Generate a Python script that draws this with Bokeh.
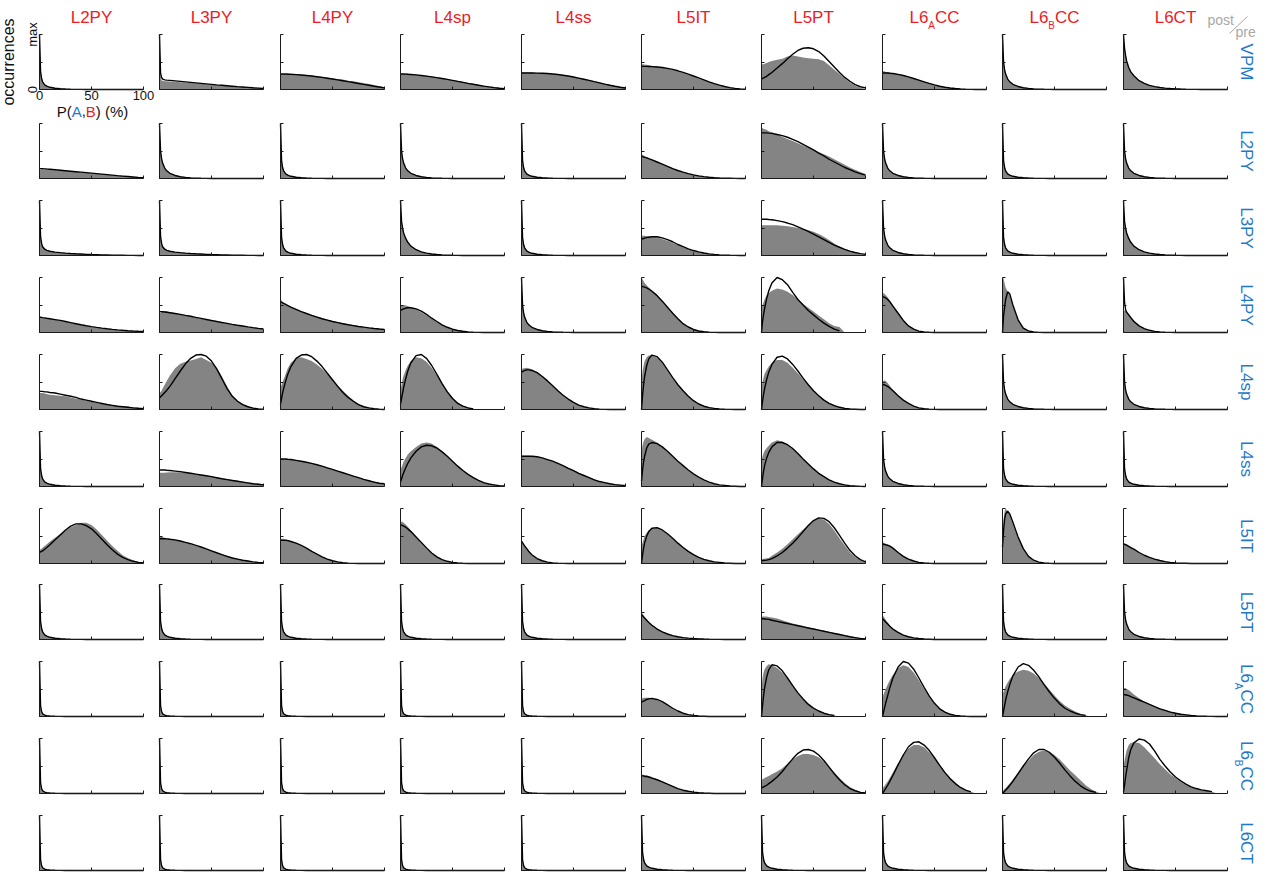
import math
from bokeh.plotting import figure
from bokeh.layouts import gridplot
from bokeh.models import Range1d, FixedTicker, Label, Arrow
from bokeh.embed import file_html
from bokeh.resources import INLINE

# ---------------------------------------------------------------- data
PRE = ["VPM", "L2PY", "L3PY", "L4PY", "L4sp", "L4ss", "L5IT", "L5PT", "L6ACC", "L6BCC", "L6CT"]
POST = ["L2PY", "L3PY", "L4PY", "L4sp", "L4ss", "L5IT", "L5PT", "L6ACC", "L6BCC", "L6CT"]
SUB = {"L6ACC": ("L6", "A", "CC"), "L6BCC": ("L6", "B", "CC")}

# P(A,B) in percent at which the histograms / fits were read
X = [0, 1, 2, 3, 5, 7, 10, 15, 20, 25, 30, 35, 40, 45, 50, 55, 60, 65, 70, 75, 80, 85, 90, 95, 100]
X_TICKS = [0, 50, 100]
Y_TICKS = [0, 0.5, 1]
N = None  # fit not drawn there

# spike-shaped cells (occurrences normalised to max)
SP_VN = [1.0,0.2,0.09,0.05,0.025,0.015,0.008, 0.004,0.002,0.001,0,0,0, 0,0,0,0,0,0, 0,0,0,0,0,0]
SP_N = [1.0,0.33,0.2,0.14,0.085,0.06,0.04, 0.022,0.013,0.008,0.005,0.003,0.002, 0.001,0,0,0,0,0, 0,0,0,0,0,0]
SP_M = [1.0,0.5,0.36,0.28,0.19,0.14,0.095, 0.055,0.032,0.02,0.012,0.007,0.004, 0.002,0.001,0,0,0,0, 0,0,0,0,0,0]
SP_W = [1.0,0.62,0.5,0.41,0.31,0.24,0.17, 0.105,0.066,0.043,0.028,0.018,0.011, 0.007,0.004,0.002,0.001,0,0, 0,0,0,0,0,0]
SP_T = [1.0,0.35,0.22,0.16,0.115,0.093,0.077, 0.062,0.052,0.044,0.037,0.031,0.026, 0.021,0.017,0.014,0.011,0.009,0.007, 0.005,0.004,0.003,0.002,0.001,0.001]

# VPM row
F_VPM_L3PY = [1.0,0.3,0.22,0.19,0.175,0.17,0.165, 0.156,0.147,0.138,0.129,0.12,0.111, 0.102,0.093,0.084,0.076,0.068,0.06, 0.052,0.045,0.038,0.031,0.025,0.019]
H_VPM_L3PY = [1.0,0.25,0.17,0.155,0.15,0.148,0.145, 0.14,0.134,0.127,0.12,0.112,0.104, 0.096,0.088,0.08,0.072,0.065,0.058, 0.051,0.044,0.037,0.031,0.025,0.019]
F_VPM_L4PY = [0.28,0.28,0.28,0.28,0.28,0.278,0.275, 0.27,0.263,0.255,0.245,0.233,0.22, 0.205,0.19,0.175,0.16,0.143,0.127, 0.11,0.093,0.077,0.06,0.045,0.03]
H_VPM_L4PY = [0.3,0.3,0.3,0.3,0.3,0.29,0.29, 0.28,0.27,0.26,0.25,0.24,0.23, 0.22,0.2,0.19,0.18,0.16,0.15, 0.13,0.12,0.1,0.08,0.06,0.04]
F_VPM_L4sp = [0.28,0.28,0.28,0.28,0.28,0.277,0.273, 0.265,0.255,0.243,0.23,0.215,0.2, 0.183,0.165,0.147,0.13,0.112,0.095, 0.078,0.062,0.048,0.035,0.024,0.015]
H_VPM_L4sp = [0.3,0.3,0.3,0.3,0.29,0.29,0.28, 0.27,0.26,0.25,0.24,0.22,0.21, 0.19,0.17,0.16,0.14,0.12,0.1, 0.09,0.07,0.06,0.045,0.03,0.02]
F_VPM_L4ss = [0.3,0.3,0.3,0.3,0.3,0.3,0.3, 0.298,0.295,0.29,0.283,0.273,0.26, 0.245,0.228,0.208,0.187,0.165,0.142, 0.12,0.098,0.077,0.058,0.042,0.028]
H_VPM_L4ss = [0.31,0.31,0.31,0.31,0.31,0.31,0.31, 0.3,0.3,0.29,0.28,0.27,0.26, 0.245,0.23,0.21,0.19,0.17,0.15, 0.13,0.105,0.085,0.065,0.045,0.03]
F_VPM_L5IT = [0.42,0.42,0.42,0.42,0.42,0.418,0.415, 0.41,0.4,0.385,0.365,0.34,0.31, 0.28,0.245,0.21,0.175,0.14,0.108, 0.08,0.055,0.035,0.02,0.01,0.005]
H_VPM_L5IT = [0.46,0.46,0.46,0.45,0.45,0.44,0.43, 0.42,0.4,0.38,0.36,0.33,0.3, 0.27,0.24,0.2,0.17,0.135,0.105, 0.08,0.055,0.035,0.02,0.01,0.005]
F_VPM_L5PT = [0.19,0.2,0.21,0.22,0.24,0.27,0.31, 0.39,0.47,0.56,0.64,0.71,0.75, 0.76,0.74,0.69,0.61,0.51,0.41, 0.31,0.22,0.15,0.09,0.05,0.03]
H_VPM_L5PT = [0.46,0.46,0.46,0.47,0.48,0.5,0.52, 0.54,0.56,0.6,0.62,0.6,0.58, 0.57,0.56,0.55,0.52,0.44,0.36, 0.28,0.2,0.13,0.07,0.03,0.01]
F_VPM_L6ACC = [0.3,0.3,0.3,0.3,0.3,0.295,0.29, 0.275,0.255,0.23,0.2,0.17,0.14, 0.11,0.083,0.06,0.042,0.028,0.018, 0.011,0.006,0.003,0.001,0,0]
H_VPM_L6ACC = [0.33,0.33,0.33,0.32,0.32,0.31,0.3, 0.28,0.26,0.23,0.2,0.17,0.14, 0.11,0.085,0.06,0.042,0.028,0.018, 0.01,0.005,0.002,0,0,0]
F_VPM_L6CT = [1.0,0.75,0.62,0.52,0.4,0.32,0.25, 0.16,0.11,0.075,0.052,0.036,0.025, 0.017,0.012,0.008,0.005,0.003,0.002, 0.001,0,0,0,0,0]

# L2PY row
F_L2PY_L2PY = [0.18,0.18,0.178,0.177,0.175,0.172,0.168, 0.16,0.151,0.142,0.133,0.124,0.115, 0.106,0.097,0.088,0.079,0.07,0.061, 0.052,0.044,0.036,0.028,0.02,0.013]
H_L2PY_L2PY = [0.16,0.16,0.16,0.16,0.16,0.158,0.155, 0.15,0.145,0.138,0.13,0.122,0.113, 0.104,0.095,0.086,0.077,0.068,0.06, 0.052,0.044,0.036,0.028,0.02,0.013]
F_L2PY_L5IT = [0.4,0.4,0.39,0.385,0.375,0.36,0.34, 0.3,0.26,0.22,0.18,0.145,0.115, 0.088,0.066,0.048,0.034,0.024,0.016, 0.01,0.006,0.004,0.002,0.001,0]
H_L2PY_L5IT = [0.43,0.43,0.42,0.41,0.39,0.37,0.35, 0.31,0.26,0.22,0.18,0.145,0.115, 0.088,0.066,0.048,0.034,0.024,0.016, 0.01,0.006,0.004,0.002,0.001,0]
F_L2PY_L5PT = [0.83,0.83,0.83,0.83,0.83,0.825,0.82, 0.8,0.78,0.75,0.71,0.67,0.62, 0.57,0.52,0.46,0.41,0.35,0.3, 0.25,0.2,0.16,0.12,0.09,0.06]
H_L2PY_L5PT = [0.92,0.92,0.9,0.9,0.88,0.86,0.84, 0.8,0.76,0.72,0.68,0.64,0.6, 0.56,0.52,0.48,0.44,0.4,0.35, 0.3,0.25,0.2,0.16,0.12,0.08]

# L3PY row
F_L3PY_L5IT = [0.3,0.305,0.31,0.315,0.325,0.333,0.34, 0.34,0.32,0.29,0.25,0.2,0.16, 0.12,0.09,0.065,0.045,0.03,0.02, 0.012,0.007,0.004,0.002,0.001,0]
H_L3PY_L5IT = [0.36,0.36,0.36,0.36,0.355,0.35,0.34, 0.33,0.3,0.27,0.23,0.19,0.15, 0.115,0.085,0.06,0.04,0.028,0.018, 0.01,0.006,0.003,0.001,0,0]
F_L3PY_L5PT = [0.66,0.66,0.66,0.66,0.66,0.655,0.65, 0.635,0.615,0.59,0.56,0.52,0.48, 0.44,0.39,0.34,0.29,0.24,0.19, 0.15,0.11,0.08,0.055,0.035,0.02]
H_L3PY_L5PT = [0.55,0.55,0.55,0.55,0.55,0.55,0.55, 0.55,0.54,0.53,0.52,0.5,0.48, 0.46,0.43,0.39,0.34,0.28,0.22, 0.16,0.12,0.08,0.05,0.025,0.01]

# L4PY row
F_L4PY_L2PY = [0.28,0.277,0.274,0.27,0.265,0.258,0.25, 0.235,0.22,0.2,0.18,0.16,0.14, 0.123,0.107,0.093,0.08,0.068,0.057, 0.048,0.04,0.033,0.027,0.022,0.018]
H_L4PY_L2PY = [0.28,0.28,0.275,0.27,0.265,0.26,0.25, 0.235,0.215,0.195,0.175,0.155,0.135, 0.118,0.102,0.088,0.076,0.065,0.055, 0.046,0.038,0.031,0.025,0.02,0.016]
F_L4PY_L3PY = [0.38,0.38,0.378,0.376,0.372,0.368,0.36, 0.345,0.33,0.312,0.295,0.275,0.256, 0.237,0.218,0.2,0.182,0.165,0.148, 0.132,0.117,0.102,0.088,0.075,0.063]
H_L4PY_L3PY = [0.35,0.36,0.37,0.38,0.39,0.385,0.37, 0.35,0.33,0.31,0.29,0.27,0.25, 0.23,0.21,0.19,0.175,0.16,0.145, 0.13,0.115,0.1,0.088,0.076,0.065]
F_L4PY_L4PY = [0.56,0.55,0.54,0.53,0.51,0.49,0.46, 0.42,0.38,0.345,0.31,0.28,0.25, 0.225,0.2,0.18,0.16,0.14,0.125, 0.11,0.097,0.085,0.074,0.064,0.055]
H_L4PY_L4PY = [0.6,0.58,0.56,0.54,0.52,0.5,0.47, 0.42,0.38,0.35,0.32,0.29,0.26, 0.235,0.21,0.19,0.17,0.15,0.135, 0.12,0.105,0.092,0.08,0.07,0.06]
F_L4PY_L4sp = [0.4,0.41,0.42,0.43,0.44,0.45,0.45, 0.43,0.39,0.33,0.26,0.2,0.14, 0.095,0.06,0.037,0.022,0.012,0.006, 0.003,0.001,0,0,0,0]
H_L4PY_L4sp = [0.5,0.5,0.5,0.5,0.49,0.48,0.46, 0.42,0.37,0.31,0.25,0.19,0.14, 0.095,0.06,0.037,0.022,0.012,0.006, 0.003,0,0,0,0,0]
F_L4PY_L5IT = [0.84,0.835,0.83,0.825,0.81,0.79,0.75, 0.67,0.57,0.46,0.35,0.25,0.16, 0.1,0.055,0.028,0.013,0.006,0.002, 0.001,0,0,0,0,0]
H_L4PY_L5IT = [1.0,0.97,0.93,0.9,0.86,0.82,0.77, 0.68,0.57,0.46,0.35,0.25,0.17, 0.105,0.06,0.03,0.015,0.007,0.003, 0.001,0,0,0,0,0]
F_L4PY_L5PT = [0,0.2,0.33,0.44,0.62,0.76,0.9, 1.0,0.96,0.87,0.73,0.6,0.5, 0.4,0.32,0.24,0.17,0.11,0.06, 0.03,N,N,N,N,N]
H_L4PY_L5PT = [0.45,0.5,0.55,0.6,0.68,0.72,0.76, 0.8,0.78,0.74,0.68,0.6,0.52, 0.45,0.38,0.31,0.24,0.17,0.12, 0.1,0,0,0,0,0]
F_L4PY_L6ACC = [0.65,0.65,0.64,0.63,0.6,0.56,0.48, 0.35,0.22,0.12,0.06,0.025,0.01, 0.004,0,0,0,0,0, 0,0,0,0,0,0]
H_L4PY_L6ACC = [0.72,0.72,0.7,0.68,0.64,0.58,0.5, 0.36,0.22,0.12,0.06,0.025,0.01, 0,0,0,0,0,0, 0,0,0,0,0,0]
F_L4PY_L6BCC = [0,0.3,0.45,0.6,0.74,0.7,0.5, 0.23,0.08,0.03,0.01,0.003,0, 0,0,0,0,0,0, 0,0,0,0,0,0]
H_L4PY_L6BCC = [1.0,0.98,0.9,0.82,0.74,0.66,0.48, 0.22,0.08,0.03,0.01,0,0, 0,0,0,0,0,0, 0,0,0,0,0,0]
F_L4PY_L6CT = [1.0,0.55,0.42,0.37,0.32,0.27,0.2, 0.12,0.07,0.04,0.02,0.01,0.005, 0.002,0.001,0,0,0,0, 0,0,0,0,0,0]
H_L4PY_L6CT = [0.4,0.4,0.4,0.38,0.34,0.29,0.22, 0.13,0.07,0.04,0.02,0.01,0.005, 0,0,0,0,0,0, 0,0,0,0,0,0]

# L4sp row
F_L4sp_L2PY = [0.33,0.33,0.33,0.33,0.32,0.32,0.31, 0.3,0.28,0.26,0.24,0.22,0.19, 0.17,0.15,0.13,0.11,0.09,0.075, 0.06,0.05,0.04,0.03,0.022,0.016]
H_L4sp_L2PY = [0.3,0.3,0.3,0.3,0.29,0.28,0.27, 0.26,0.25,0.24,0.22,0.2,0.18, 0.16,0.14,0.12,0.1,0.09,0.08, 0.07,0.06,0.05,0.04,0.03,0.02]
F_L4sp_L3PY = [0.21,0.23,0.25,0.27,0.31,0.35,0.42, 0.56,0.7,0.83,0.93,0.99,1.0, 0.97,0.88,0.74,0.56,0.38,0.24, 0.15,0.09,0.05,0.025,0.012,0.005]
H_L4sp_L3PY = [0.3,0.32,0.34,0.38,0.45,0.52,0.62, 0.75,0.83,0.87,0.89,0.92,0.95, 0.9,0.85,0.76,0.6,0.42,0.26, 0.16,0.1,0.06,0.03,0.015,0.005]
F_L4sp_L4PY = [0.1,0.2,0.3,0.38,0.52,0.64,0.78, 0.93,0.99,1.0,0.96,0.88,0.78, 0.66,0.54,0.42,0.31,0.22,0.15, 0.09,0.05,0.03,0.015,0.005,0]
H_L4sp_L4PY = [0.4,0.45,0.5,0.55,0.65,0.75,0.85, 0.93,0.95,0.92,0.88,0.82,0.74, 0.64,0.54,0.44,0.34,0.25,0.17, 0.1,0.06,0.03,0.015,0.005,0]
F_L4sp_L4sp = [0.1,0.2,0.3,0.4,0.56,0.7,0.85, 0.98,1.0,0.93,0.8,0.64,0.47, 0.32,0.2,0.11,0.06,0.03,0.01, N,N,N,N,N,N]
H_L4sp_L4sp = [0.35,0.45,0.55,0.62,0.72,0.8,0.88, 0.95,0.93,0.87,0.76,0.62,0.47, 0.33,0.22,0.13,0.07,0.03,0.01, 0,0,0,0,0,0]
F_L4sp_L4ss = [0.68,0.69,0.7,0.71,0.72,0.72,0.71, 0.67,0.6,0.52,0.43,0.34,0.26, 0.19,0.13,0.08,0.05,0.03,0.015, 0.007,0.003,0,0,0,0]
H_L4sp_L4ss = [0.72,0.74,0.75,0.75,0.76,0.75,0.73, 0.68,0.6,0.52,0.43,0.34,0.26, 0.19,0.13,0.08,0.05,0.03,0.015, 0,0,0,0,0,0]
F_L4sp_L5IT = [0.0,0.25,0.45,0.6,0.8,0.92,0.99, 0.96,0.86,0.72,0.58,0.45,0.34, 0.24,0.16,0.1,0.06,0.035,0.02, 0.01,0.005,0.002,0,0,0]
H_L4sp_L5IT = [0.5,0.7,0.8,0.88,0.95,0.98,0.98, 0.94,0.84,0.7,0.56,0.44,0.34, 0.25,0.17,0.11,0.07,0.04,0.02, 0.01,0,0,0,0,0]
F_L4sp_L5PT = [0.0,0.15,0.28,0.38,0.55,0.68,0.82, 0.95,0.97,0.92,0.82,0.7,0.57, 0.45,0.34,0.25,0.17,0.11,0.07, 0.04,0.02,0.01,0.005,0,0]
H_L4sp_L5PT = [0.4,0.5,0.58,0.65,0.72,0.78,0.85, 0.9,0.9,0.85,0.76,0.66,0.55, 0.45,0.35,0.26,0.18,0.12,0.08, 0.05,0.03,0.015,0.005,0,0]
F_L4sp_L6ACC = [0.45,0.45,0.45,0.44,0.42,0.39,0.34, 0.25,0.17,0.11,0.06,0.03,0.015, 0.007,0.003,0,0,0,0, 0,0,0,0,0,0]
H_L4sp_L6ACC = [0.5,0.52,0.53,0.52,0.48,0.43,0.36, 0.26,0.17,0.1,0.06,0.03,0.015, 0.005,0,0,0,0,0, 0,0,0,0,0,0]

# L4ss row
F_L4ss_L3PY = [0.3,0.3,0.3,0.3,0.3,0.295,0.29, 0.28,0.27,0.255,0.24,0.225,0.21, 0.195,0.18,0.16,0.14,0.125,0.11, 0.095,0.08,0.065,0.05,0.04,0.03]
H_L4ss_L3PY = [0.25,0.25,0.25,0.25,0.25,0.255,0.26, 0.26,0.26,0.25,0.24,0.225,0.21, 0.195,0.18,0.165,0.15,0.135,0.12, 0.105,0.09,0.075,0.06,0.05,0.04]
F_L4ss_L4PY = [0.5,0.5,0.5,0.5,0.5,0.495,0.49, 0.475,0.46,0.44,0.42,0.395,0.37, 0.34,0.31,0.28,0.25,0.22,0.19, 0.16,0.13,0.105,0.08,0.06,0.05]
H_L4ss_L4PY = [0.5,0.5,0.5,0.5,0.5,0.5,0.49, 0.48,0.46,0.44,0.42,0.4,0.37, 0.34,0.31,0.28,0.25,0.22,0.19, 0.16,0.13,0.11,0.09,0.07,0.05]
F_L4ss_L4sp = [0.08,0.14,0.2,0.25,0.34,0.42,0.52, 0.64,0.72,0.75,0.74,0.7,0.63, 0.55,0.46,0.37,0.29,0.22,0.16, 0.11,0.07,0.045,0.03,0.015,0.008]
H_L4ss_L4sp = [0.3,0.35,0.4,0.45,0.52,0.58,0.64, 0.72,0.78,0.8,0.78,0.72,0.64, 0.55,0.46,0.37,0.29,0.22,0.16, 0.11,0.07,0.045,0.03,0.015,0.005]
F_L4ss_L4ss = [0.55,0.55,0.55,0.55,0.55,0.55,0.55, 0.54,0.52,0.49,0.46,0.42,0.38, 0.33,0.29,0.24,0.2,0.16,0.12, 0.09,0.07,0.05,0.035,0.025,0.015]
H_L4ss_L4ss = [0.56,0.56,0.56,0.56,0.56,0.56,0.55, 0.54,0.52,0.49,0.46,0.42,0.38, 0.34,0.3,0.25,0.21,0.17,0.13, 0.1,0.075,0.055,0.04,0.028,0.018]
F_L4ss_L5IT = [0.1,0.3,0.45,0.55,0.7,0.77,0.8, 0.78,0.72,0.64,0.55,0.46,0.38, 0.3,0.23,0.17,0.12,0.08,0.05, 0.03,0.02,0.01,0.005,0,0]
H_L4ss_L5IT = [0.6,0.75,0.82,0.86,0.9,0.88,0.85, 0.8,0.72,0.63,0.54,0.45,0.37, 0.29,0.22,0.16,0.11,0.07,0.045, 0.025,0.015,0.005,0,0,0]
F_L4ss_L5PT = [0.0,0.15,0.28,0.38,0.52,0.62,0.72, 0.8,0.8,0.76,0.69,0.6,0.5, 0.41,0.32,0.24,0.18,0.12,0.08, 0.05,0.03,0.015,0.008,0.003,0]
H_L4ss_L5PT = [0.45,0.55,0.6,0.65,0.7,0.74,0.8, 0.84,0.82,0.76,0.68,0.59,0.5, 0.41,0.32,0.25,0.18,0.12,0.08, 0.05,0.03,0.015,0.005,0,0]

# L5IT row
F_L5IT_L2PY = [0.2,0.21,0.22,0.23,0.26,0.29,0.34, 0.43,0.52,0.61,0.68,0.72,0.72, 0.69,0.63,0.54,0.44,0.34,0.25, 0.17,0.11,0.07,0.04,0.02,0.01]
H_L5IT_L2PY = [0.25,0.26,0.27,0.29,0.32,0.35,0.4, 0.47,0.54,0.6,0.66,0.7,0.74, 0.74,0.7,0.62,0.52,0.42,0.32, 0.23,0.15,0.1,0.06,0.03,0.015]
F_L5IT_L3PY = [0.45,0.45,0.45,0.45,0.45,0.447,0.44, 0.43,0.41,0.385,0.36,0.33,0.3, 0.265,0.23,0.195,0.16,0.13,0.1, 0.08,0.06,0.045,0.03,0.02,0.015]
H_L5IT_L3PY = [0.5,0.5,0.49,0.48,0.47,0.46,0.45, 0.43,0.41,0.38,0.35,0.32,0.29, 0.26,0.23,0.2,0.17,0.14,0.11, 0.085,0.065,0.048,0.033,0.022,0.015]
F_L5IT_L4PY = [0.42,0.42,0.42,0.42,0.42,0.415,0.4, 0.37,0.33,0.28,0.22,0.17,0.12, 0.08,0.05,0.03,0.015,0.007,0.003, 0.001,0,0,0,0,0]
H_L5IT_L4PY = [0.45,0.45,0.45,0.45,0.44,0.43,0.41, 0.37,0.32,0.27,0.21,0.16,0.115, 0.08,0.05,0.03,0.015,0.007,0.003, 0,0,0,0,0,0]
F_L5IT_L4sp = [0.7,0.7,0.69,0.68,0.66,0.63,0.58, 0.48,0.38,0.28,0.19,0.12,0.07, 0.04,0.02,0.01,0.004,0,0, 0,0,0,0,0,0]
H_L5IT_L4sp = [0.75,0.76,0.76,0.74,0.71,0.67,0.6, 0.48,0.36,0.26,0.18,0.12,0.07, 0.04,0.02,0.01,0,0,0, 0,0,0,0,0,0]
F_L5IT_L4ss = [0.4,0.38,0.35,0.32,0.27,0.22,0.16, 0.09,0.05,0.025,0.012,0.006,0.003, 0,0,0,0,0,0, 0,0,0,0,0,0]
H_L5IT_L4ss = [0.38,0.37,0.35,0.33,0.28,0.23,0.16, 0.09,0.05,0.025,0.012,0.005,0, 0,0,0,0,0,0, 0,0,0,0,0,0]
F_L5IT_L5IT = [0.0,0.15,0.28,0.37,0.5,0.58,0.64, 0.65,0.61,0.54,0.46,0.37,0.29, 0.22,0.16,0.11,0.075,0.05,0.03, 0.02,0.01,0.005,0,0,0]
H_L5IT_L5IT = [0.3,0.38,0.44,0.5,0.56,0.6,0.63, 0.63,0.6,0.53,0.45,0.37,0.29, 0.22,0.16,0.11,0.075,0.05,0.03, 0.015,0.005,0,0,0,0]
F_L5IT_L5PT = [0.05,0.052,0.054,0.056,0.062,0.07,0.09, 0.14,0.2,0.28,0.37,0.47,0.58, 0.69,0.78,0.83,0.82,0.76,0.65, 0.51,0.37,0.24,0.14,0.07,0.03]
H_L5IT_L5PT = [0.08,0.082,0.085,0.088,0.095,0.1,0.14, 0.2,0.27,0.35,0.44,0.53,0.62, 0.7,0.78,0.82,0.8,0.72,0.6, 0.46,0.33,0.21,0.12,0.06,0.02]
F_L5IT_L6ACC = [0.35,0.35,0.345,0.34,0.33,0.315,0.28, 0.2,0.13,0.08,0.045,0.02,0.01, 0.004,0,0,0,0,0, 0,0,0,0,0,0]
H_L5IT_L6ACC = [0.38,0.38,0.37,0.36,0.35,0.33,0.29, 0.2,0.13,0.08,0.045,0.02,0.01, 0,0,0,0,0,0, 0,0,0,0,0,0]
F_L5IT_L6BCC = [0.3,0.6,0.8,0.9,0.95,0.9,0.75, 0.48,0.27,0.13,0.06,0.025,0.01, 0.004,0,0,0,0,0, 0,0,0,0,0,0]
H_L5IT_L6BCC = [0.5,0.8,0.95,1.0,0.95,0.88,0.72, 0.46,0.26,0.13,0.06,0.025,0.01, 0,0,0,0,0,0, 0,0,0,0,0,0]
F_L5IT_L6CT = [0.35,0.35,0.34,0.335,0.31,0.29,0.26, 0.2,0.15,0.11,0.08,0.055,0.035, 0.02,0.012,0.007,0.004,0,0, 0,0,0,0,0,0]
H_L5IT_L6CT = [0.38,0.37,0.36,0.35,0.32,0.3,0.26, 0.2,0.15,0.11,0.08,0.055,0.035, 0.02,0.012,0.007,0.004,0,0, 0,0,0,0,0,0]

# L5PT row
F_L5PT_L5IT = [0.45,0.43,0.41,0.39,0.35,0.31,0.26, 0.19,0.14,0.1,0.07,0.05,0.035, 0.025,0.017,0.012,0.008,0.005,0.003, 0.002,0,0,0,0,0]
H_L5PT_L5IT = [0.5,0.47,0.44,0.41,0.36,0.32,0.27, 0.2,0.14,0.1,0.07,0.05,0.035, 0.025,0.017,0.012,0.008,0.005,0.003, 0,0,0,0,0,0]
F_L5PT_L5PT = [0.38,0.378,0.376,0.374,0.37,0.365,0.35, 0.33,0.31,0.29,0.27,0.25,0.23, 0.21,0.19,0.17,0.15,0.13,0.11, 0.09,0.07,0.05,0.035,0.02,0.01]
H_L5PT_L5PT = [0.42,0.42,0.42,0.42,0.42,0.41,0.4, 0.38,0.35,0.32,0.29,0.27,0.25, 0.22,0.2,0.18,0.16,0.14,0.12, 0.1,0.08,0.06,0.04,0.02,0.01]
F_L5PT_L6ACC = [0.38,0.36,0.34,0.32,0.28,0.24,0.19, 0.13,0.08,0.05,0.03,0.018,0.01, 0.005,0,0,0,0,0, 0,0,0,0,0,0]
H_L5PT_L6ACC = [0.45,0.42,0.39,0.36,0.31,0.26,0.2, 0.13,0.08,0.05,0.03,0.018,0.01, 0,0,0,0,0,0, 0,0,0,0,0,0]

# L6ACC row
F_L6ACC_L5IT = [0.26,0.27,0.28,0.29,0.31,0.32,0.33, 0.31,0.27,0.21,0.15,0.1,0.06, 0.035,0.02,0.01,0.005,0,0, 0,0,0,0,0,0]
H_L6ACC_L5IT = [0.32,0.33,0.34,0.34,0.34,0.34,0.33, 0.3,0.26,0.2,0.14,0.09,0.055, 0.03,0.015,0.008,0,0,0, 0,0,0,0,0,0]
F_L6ACC_L5PT = [0,0.2,0.38,0.52,0.72,0.85,0.94, 0.92,0.83,0.7,0.56,0.43,0.32, 0.22,0.15,0.1,0.06,0.035,0.02, N,N,N,N,N,N]
H_L6ACC_L5PT = [0.5,0.7,0.8,0.86,0.92,0.95,0.93, 0.88,0.8,0.68,0.55,0.43,0.33, 0.24,0.17,0.11,0.07,0.04,0.02, 0,0,0,0,0,0]
F_L6ACC_L6ACC = [0,0.08,0.16,0.24,0.38,0.52,0.7, 0.9,1.0,0.97,0.86,0.7,0.53, 0.37,0.24,0.14,0.08,0.04,0.02, 0.01,0.004,0,0,0,0]
H_L6ACC_L6ACC = [0.35,0.4,0.45,0.5,0.58,0.66,0.76, 0.88,0.93,0.9,0.8,0.66,0.5, 0.36,0.24,0.15,0.09,0.05,0.025, 0.01,0,0,0,0,0]
F_L6ACC_L6BCC = [0,0.1,0.2,0.3,0.45,0.58,0.74, 0.9,0.96,0.93,0.84,0.72,0.58, 0.45,0.33,0.23,0.15,0.1,0.06, 0.035,0.02,N,N,N,N]
H_L6ACC_L6BCC = [0.4,0.45,0.5,0.55,0.62,0.68,0.76, 0.82,0.85,0.83,0.78,0.7,0.6, 0.49,0.38,0.28,0.2,0.14,0.09, 0.05,0.02,0,0,0,0]
F_L6ACC_L6CT = [0.4,0.4,0.39,0.39,0.38,0.36,0.34, 0.3,0.26,0.22,0.18,0.14,0.11, 0.08,0.06,0.04,0.03,0.02,0.012, 0.007,0.004,0.002,0,0,0]
H_L6ACC_L6CT = [0.5,0.52,0.52,0.5,0.48,0.45,0.4, 0.33,0.27,0.22,0.18,0.15,0.12, 0.09,0.07,0.05,0.035,0.025,0.015, 0.008,0.004,0,0,0,0]

# L6BCC row
F_L6BCC_L5IT = [0.32,0.32,0.32,0.31,0.31,0.3,0.28, 0.25,0.21,0.17,0.13,0.09,0.06, 0.04,0.025,0.015,0.008,0.004,0, 0,0,0,0,0,0]
H_L6BCC_L5IT = [0.34,0.34,0.34,0.33,0.33,0.32,0.3, 0.26,0.22,0.17,0.13,0.09,0.06, 0.04,0.025,0.015,0.008,0,0, 0,0,0,0,0,0]
F_L6BCC_L5PT = [0.1,0.11,0.12,0.13,0.15,0.18,0.22, 0.3,0.4,0.52,0.63,0.73,0.79, 0.8,0.77,0.7,0.6,0.48,0.36, 0.25,0.16,0.09,0.05,0.02,0.01]
H_L6BCC_L5PT = [0.25,0.26,0.27,0.28,0.3,0.32,0.35, 0.4,0.46,0.54,0.62,0.68,0.72, 0.72,0.7,0.66,0.58,0.48,0.38, 0.28,0.19,0.12,0.07,0.03,0.01]
F_L6BCC_L6ACC = [0,0.03,0.06,0.09,0.15,0.22,0.33, 0.52,0.7,0.85,0.93,0.94,0.88, 0.78,0.65,0.51,0.38,0.27,0.18, 0.11,0.06,0.03,N,N,N]
H_L6BCC_L6ACC = [0.1,0.12,0.14,0.17,0.22,0.28,0.38, 0.55,0.7,0.82,0.88,0.88,0.84, 0.75,0.64,0.52,0.4,0.29,0.2, 0.12,0.07,0.03,0,0,0]
F_L6BCC_L6BCC = [0,0.02,0.04,0.06,0.1,0.15,0.22, 0.36,0.5,0.63,0.74,0.8,0.8, 0.75,0.66,0.55,0.43,0.32,0.22, 0.14,0.08,0.04,0.02,N,N]
H_L6BCC_L6BCC = [0.05,0.06,0.08,0.1,0.14,0.18,0.26, 0.38,0.5,0.6,0.7,0.76,0.78, 0.76,0.7,0.62,0.52,0.42,0.33, 0.24,0.15,0.08,0.03,0,0]
F_L6BCC_L6CT = [0.03,0.15,0.3,0.42,0.65,0.8,0.92, 0.99,0.97,0.9,0.77,0.62,0.5, 0.39,0.3,0.23,0.17,0.12,0.09, 0.065,0.05,0.035,N,N,N]
H_L6BCC_L6CT = [0.5,0.6,0.7,0.78,0.88,0.92,0.93, 0.92,0.84,0.74,0.64,0.53,0.44, 0.35,0.28,0.21,0.16,0.12,0.09, 0.065,0.045,0.03,0,0,0]

# per presynaptic row: fitted curves and histograms, one entry per postsynaptic column
FIT_VPM = [SP_N, F_VPM_L3PY, F_VPM_L4PY, F_VPM_L4sp, F_VPM_L4ss, F_VPM_L5IT, F_VPM_L5PT, F_VPM_L6ACC, SP_M, F_VPM_L6CT]
HIST_VPM = [SP_N, H_VPM_L3PY, H_VPM_L4PY, H_VPM_L4sp, H_VPM_L4ss, H_VPM_L5IT, H_VPM_L5PT, H_VPM_L6ACC, SP_M, F_VPM_L6CT]
FIT_L2PY = [F_L2PY_L2PY, SP_M, SP_N, SP_M, SP_N, F_L2PY_L5IT, F_L2PY_L5PT, SP_M, SP_N, SP_M]
HIST_L2PY = [H_L2PY_L2PY, SP_M, SP_N, SP_M, SP_N, H_L2PY_L5IT, H_L2PY_L5PT, SP_M, SP_N, SP_M]
FIT_L3PY = [SP_T, SP_T, SP_N, SP_W, SP_N, F_L3PY_L5IT, F_L3PY_L5PT, SP_M, SP_N, SP_W]
HIST_L3PY = [SP_T, SP_T, SP_N, SP_W, SP_N, H_L3PY_L5IT, H_L3PY_L5PT, SP_M, SP_N, SP_W]
FIT_L4PY = [F_L4PY_L2PY, F_L4PY_L3PY, F_L4PY_L4PY, F_L4PY_L4sp, SP_M, F_L4PY_L5IT, F_L4PY_L5PT, F_L4PY_L6ACC, F_L4PY_L6BCC, F_L4PY_L6CT]
HIST_L4PY = [H_L4PY_L2PY, H_L4PY_L3PY, H_L4PY_L4PY, H_L4PY_L4sp, SP_M, H_L4PY_L5IT, H_L4PY_L5PT, H_L4PY_L6ACC, H_L4PY_L6BCC, H_L4PY_L6CT]
FIT_L4sp = [F_L4sp_L2PY, F_L4sp_L3PY, F_L4sp_L4PY, F_L4sp_L4sp, F_L4sp_L4ss, F_L4sp_L5IT, F_L4sp_L5PT, F_L4sp_L6ACC, SP_M, SP_M]
HIST_L4sp = [H_L4sp_L2PY, H_L4sp_L3PY, H_L4sp_L4PY, H_L4sp_L4sp, H_L4sp_L4ss, H_L4sp_L5IT, H_L4sp_L5PT, H_L4sp_L6ACC, SP_M, SP_M]
FIT_L4ss = [SP_N, F_L4ss_L3PY, F_L4ss_L4PY, F_L4ss_L4sp, F_L4ss_L4ss, F_L4ss_L5IT, F_L4ss_L5PT, SP_M, SP_N, SP_N]
HIST_L4ss = [SP_N, H_L4ss_L3PY, H_L4ss_L4PY, H_L4ss_L4sp, H_L4ss_L4ss, H_L4ss_L5IT, H_L4ss_L5PT, SP_M, SP_N, SP_N]
FIT_L5IT = [F_L5IT_L2PY, F_L5IT_L3PY, F_L5IT_L4PY, F_L5IT_L4sp, F_L5IT_L4ss, F_L5IT_L5IT, F_L5IT_L5PT, F_L5IT_L6ACC, F_L5IT_L6BCC, F_L5IT_L6CT]
HIST_L5IT = [H_L5IT_L2PY, H_L5IT_L3PY, H_L5IT_L4PY, H_L5IT_L4sp, H_L5IT_L4ss, H_L5IT_L5IT, H_L5IT_L5PT, H_L5IT_L6ACC, H_L5IT_L6BCC, H_L5IT_L6CT]
FIT_L5PT = [SP_N, SP_N, SP_N, SP_N, SP_N, F_L5PT_L5IT, F_L5PT_L5PT, F_L5PT_L6ACC, SP_N, SP_M]
HIST_L5PT = [SP_N, SP_N, SP_N, SP_N, SP_N, H_L5PT_L5IT, H_L5PT_L5PT, H_L5PT_L6ACC, SP_N, SP_M]
FIT_L6ACC = [SP_VN, SP_VN, SP_VN, SP_VN, SP_VN, F_L6ACC_L5IT, F_L6ACC_L5PT, F_L6ACC_L6ACC, F_L6ACC_L6BCC, F_L6ACC_L6CT]
HIST_L6ACC = [SP_VN, SP_VN, SP_VN, SP_VN, SP_VN, H_L6ACC_L5IT, H_L6ACC_L5PT, H_L6ACC_L6ACC, H_L6ACC_L6BCC, H_L6ACC_L6CT]
FIT_L6BCC = [SP_VN, SP_VN, SP_VN, SP_VN, SP_VN, F_L6BCC_L5IT, F_L6BCC_L5PT, F_L6BCC_L6ACC, F_L6BCC_L6BCC, F_L6BCC_L6CT]
HIST_L6BCC = [SP_VN, SP_VN, SP_VN, SP_VN, SP_VN, H_L6BCC_L5IT, H_L6BCC_L5PT, H_L6BCC_L6ACC, H_L6BCC_L6BCC, H_L6BCC_L6CT]
FIT_L6CT = [SP_VN, SP_VN, SP_VN, SP_VN, SP_VN, SP_N, SP_N, SP_N, SP_N, SP_N]
HIST_L6CT = [SP_VN, SP_VN, SP_VN, SP_VN, SP_VN, SP_N, SP_N, SP_N, SP_N, SP_N]

FITS = [FIT_VPM, FIT_L2PY, FIT_L3PY, FIT_L4PY, FIT_L4sp, FIT_L4ss, FIT_L5IT, FIT_L5PT, FIT_L6ACC, FIT_L6BCC, FIT_L6CT]
HISTS = [HIST_VPM, HIST_L2PY, HIST_L3PY, HIST_L4PY, HIST_L4sp, HIST_L4ss, HIST_L5IT, HIST_L5PT, HIST_L6ACC, HIST_L6BCC, HIST_L6CT]

# ---------------------------------------------------------------- style / layout
FONT = "Liberation Sans"
RED = "#ec1c24"
BLUE = "#1f78c8"
GREY_TXT = "#a8a8a8"
HIST_COLOR = "#848484"
AX_COLOR = "#1a1a1a"
TXT = "#111111"
FRAME_W, FRAME_H = 104, 55
MID = 0.3465   # (ascent - descent) / 2 of the font, in em: baseline -> middle

# Arial / Liberation Sans advance widths (em)
ADV = {"L": 0.556, "6": 0.556, "C": 0.722, "A": 0.667, "B": 0.667, "P": 0.667,
       "(": 0.333, ")": 0.333, ",": 0.278, " ": 0.278, "%": 0.889}


def tw(s, size):
    return sum(ADV.get(ch, 0.6) for ch in s) * size


# page coordinates of the panels (0..100 x 0..max areas)
FX = [round(39 + 120.4 * c) for c in range(10)]
S = [0] + [FX[c] - 3 for c in range(1, 10)] + [1272]
FB = [89] + [int(178 + 76.9 * (r - 1) + 0.5) for r in range(1, 11)]
FT = [b - FRAME_H for b in FB]
R = [0] + [FT[r] - 3 for r in range(1, 11)] + [872]


def hlab(p, text, x, y, xo, yb, color, size, align="left"):
    """horizontal text; yb = baseline offset in px above (x, y)"""
    p.add_layout(Label(x=x, y=y, x_offset=xo, y_offset=yb + MID * size, text=text,
                       text_align=align, text_baseline="middle", text_font=FONT,
                       text_font_size=f"{size}px", text_color=color))


def vlab(p, text, x, y, xb, yo, color, size, align="left"):
    """text reading top to bottom; xb = baseline offset in px right of (x, y)"""
    p.add_layout(Label(x=x, y=y, x_offset=xb + MID * size, y_offset=yo, text=text,
                       angle=-math.pi / 2, text_align=align, text_baseline="middle",
                       text_font=FONT, text_font_size=f"{size}px", text_color=color))


def column_title(p, name):
    if name in SUB:
        a, s, b = SUB[name]
        wa, ws, wb = tw(a, 17), tw(s, 10), tw(b, 17)
        x0 = -(wa + ws + wb) / 2
        hlab(p, a, 50, 1, x0, 11, RED, 17)
        hlab(p, s, 50, 1, x0 + wa, 6, RED, 10)
        hlab(p, b, 50, 1, x0 + wa + ws, 11, RED, 17)
    else:
        hlab(p, name, 50, 1, 0, 11, RED, 17, align="center")


def row_title(p, name):
    if name in SUB:
        a, s, b = SUB[name]
        wa, ws, wb = tw(a, 17), tw(s, 10), tw(b, 17)
        y0 = (wa + ws + wb) / 2
        vlab(p, a, 100, 0.5, 13, y0, BLUE, 17)
        vlab(p, s, 100, 0.5, 8, y0 - wa, BLUE, 10)
        vlab(p, b, 100, 0.5, 13, y0 - wa - ws, BLUE, 17)
    else:
        vlab(p, name, 100, 0.5, 13, 0, BLUE, 17, align="center")


rows = []
for r in range(11):
    row_figs = []
    for c in range(10):
        width = S[c + 1] - S[c]
        height = R[r + 1] - R[r]
        bl = FX[c] - S[c]          # px from figure left to P=0
        bb = R[r + 1] - FB[r]      # px from figure bottom to occurrences=0
        kx = 100.0 / FRAME_W
        ky = 1.0 / FRAME_H
        p = figure(width=width, height=height,
                   x_range=Range1d(-bl * kx, (width - bl) * kx),
                   y_range=Range1d(-bb * ky, (height - bb) * ky),
                   output_backend="svg", toolbar_location=None, title=None, min_border=0,
                   outline_line_color=None, background_fill_color="white",
                   border_fill_color="white")
        p.xgrid.visible = False
        p.ygrid.visible = False
        xa, ya = p.xaxis[0], p.yaxis[0]
        xa.ticker = FixedTicker(ticks=X_TICKS)
        ya.ticker = FixedTicker(ticks=Y_TICKS)
        xa.fixed_location = 0
        ya.fixed_location = 0
        xa.bounds = (0, 100)
        ya.bounds = (0, 1)
        for ax in (xa, ya):
            ax.axis_line_color = AX_COLOR
            ax.axis_line_width = 1
            ax.major_tick_line_color = AX_COLOR
            ax.major_tick_line_width = 1
            ax.major_tick_in = 3
            ax.major_tick_out = 0
            ax.minor_tick_line_color = None
            ax.major_label_text_font = FONT
            ax.major_label_text_color = TXT
        if r == 0 and c == 0:
            xa.major_label_text_font_size = "13px"
            xa.major_label_standoff = 1
            ya.major_label_text_font_size = "13px"
            ya.major_label_standoff = 0
            ya.major_label_orientation = "vertical"
            ya.major_label_overrides = {0: "0", 0.5: "", 1: "max"}
            ya.axis_label = "occurrences"
            ya.axis_label_text_font = FONT
            ya.axis_label_text_font_size = "16px"
            ya.axis_label_text_font_style = "normal"
            ya.axis_label_text_color = TXT
            ya.axis_label_standoff = 5
        else:
            for ax, ticks in ((xa, X_TICKS), (ya, Y_TICKS)):
                ax.major_label_text_font_size = "0px"
                ax.major_label_standoff = 0
                ax.major_label_overrides = {t: "" for t in ticks}

        fit = [math.nan if v is None else v for v in FITS[r][c]]
        hist = [0.0 if v is None else v for v in HISTS[r][c]]
        p.varea(x=X, y1=0, y2=hist, fill_color=HIST_COLOR, fill_alpha=1.0)
        p.line(X, fit, line_color="#000000", line_width=1.4)

        if r == 0:
            column_title(p, POST[c])
        if c == 9:
            row_title(p, PRE[r])
        if r == 0 and c == 0:
            parts = [("P(", TXT), ("A", BLUE), (",", TXT), ("B", RED), (") (%)", TXT)]
            total = sum(tw(t, 15) for t, _ in parts)
            xo = 53 - total / 2
            for t, col in parts:
                hlab(p, t, 0, 0, xo, -27, col, 15)
                xo += tw(t, 15)
        if r == 0 and c == 9:
            hlab(p, "post", 100, 1, -20, 9.5, GREY_TXT, 14)
            hlab(p, "pre", 100, 1, 8, -2, GREY_TXT, 14)
            p.add_layout(Arrow(end=None, x_start=101.9, y_start=1.018, x_end=119.2, y_end=1.327,
                               line_color=GREY_TXT, line_width=1))
        row_figs.append(p)
    rows.append(row_figs)

grid = gridplot(rows, toolbar_location=None)
open("out.html", "w").write(file_html(grid, INLINE, title="P(A,B) distributions"))
